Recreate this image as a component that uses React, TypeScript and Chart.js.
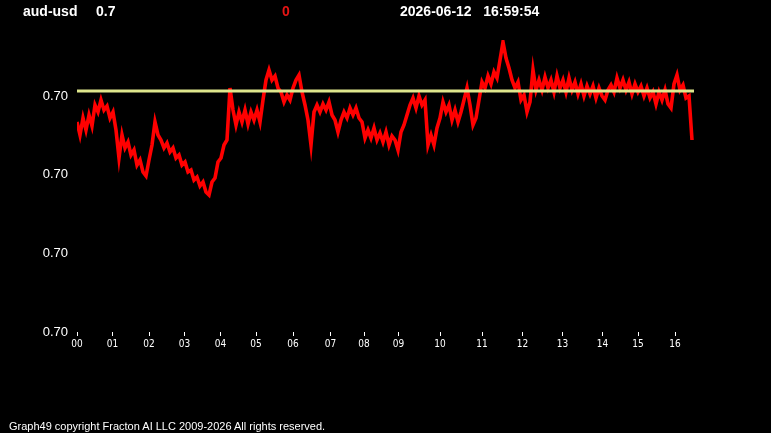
import { useEffect, useRef } from "react";
import { Chart, registerables } from "chart.js";

Chart.register(...registerables);

// hour labels and the sample position where each hour starts
const hourLabels = ["00", "01", "02", "03", "04", "05", "06", "07", "08", "09", "10", "11", "12", "13", "14", "15", "16"];
const hourStarts = [0, 35.5, 72, 107.5, 143.5, 179, 216, 253.5, 287, 321.5, 363, 405, 445.5, 485.5, 525.5, 561, 598];
const sampleStep = 3;
const lastSample = 617;

// aud-usd price samples
const prices = [
  0.70378, 0.70365, 0.70382, 0.7037, 0.70385, 0.70374, 0.70395, 0.70388, 0.704, 0.7039,
  0.70394, 0.70382, 0.70388, 0.7037, 0.70342, 0.70365, 0.70352, 0.70358, 0.70345, 0.7035,
  0.70335, 0.7034, 0.70328, 0.70324, 0.7034, 0.70355, 0.70378, 0.70365, 0.7036, 0.70352,
  0.70357, 0.70348, 0.70352, 0.70342, 0.70345, 0.70335, 0.70338, 0.70328, 0.7033, 0.7032,
  0.70323, 0.70314, 0.70318, 0.70308, 0.70305, 0.70318, 0.70322, 0.70338, 0.70342, 0.70355,
  0.7036, 0.70412, 0.7039, 0.70375, 0.70388, 0.70378, 0.7039, 0.70376, 0.70388, 0.7038,
  0.7039, 0.70378, 0.704, 0.7042, 0.7043, 0.7042, 0.70424, 0.70412, 0.70408, 0.70398,
  0.70405, 0.704, 0.70412, 0.7042, 0.70425, 0.70408, 0.70395, 0.7038, 0.70355, 0.70388,
  0.70395, 0.70388, 0.70396, 0.7039, 0.70398, 0.70385, 0.7038, 0.70368, 0.7038, 0.70388,
  0.70382, 0.70392, 0.70385, 0.70392, 0.70382, 0.70378, 0.70362, 0.7037, 0.70362, 0.70372,
  0.7036, 0.70367, 0.70358, 0.70368, 0.70355, 0.70364, 0.7036, 0.7035, 0.70368, 0.70375,
  0.70385, 0.70395, 0.70402, 0.70392, 0.70404, 0.70395, 0.704, 0.70355, 0.70365, 0.70355,
  0.70372, 0.70382, 0.70398, 0.70388, 0.70395, 0.7038, 0.7039, 0.70378, 0.70388, 0.704,
  0.70412, 0.70395, 0.70375, 0.70382, 0.704, 0.70418, 0.70412, 0.70424, 0.70416, 0.70428,
  0.70422, 0.7044, 0.70458, 0.70442, 0.70432, 0.7042, 0.70412, 0.70418, 0.704, 0.70405,
  0.70388, 0.70398, 0.7043, 0.7041, 0.7042, 0.7041, 0.70423, 0.70412, 0.7042, 0.70408,
  0.70424, 0.70412, 0.7042, 0.70408, 0.70422, 0.7041, 0.70418, 0.70406, 0.70416, 0.70404,
  0.70414, 0.70406, 0.70414, 0.70402, 0.70412, 0.70404, 0.704, 0.7041, 0.70415, 0.70408,
  0.70422, 0.70412, 0.7042, 0.7041, 0.70418, 0.70406, 0.70416, 0.70408, 0.70414, 0.70404,
  0.70412, 0.70402, 0.70408, 0.70396, 0.70408, 0.704, 0.7041, 0.70396, 0.70392, 0.70416,
  0.70425, 0.7041, 0.70415, 0.70402, 0.70404, 0.7036
];

const prevClose = 0.70409;
const yTicks = [0.70404, 0.703253, 0.702467, 0.70168];
const yMin = 0.70168;
const yMax = 0.7046;

const textFont = '"Liberation Sans", Arial, sans-serif';

export default function App() {
  const chartRef = useRef<HTMLCanvasElement | null>(null);
  const chartInstance = useRef<Chart | null>(null);

  useEffect(() => {
    document.body.style.margin = "0";
    document.body.style.background = "#000";
    if (!chartRef.current) return;
    if (chartInstance.current) chartInstance.current.destroy();
    const ctx = chartRef.current.getContext("2d");
    if (!ctx) return;

    chartInstance.current = new Chart(ctx, {
      type: "line",
      data: {
        datasets: [
          {
            label: "aud-usd",
            data: prices.map((p, i) => ({ x: i * sampleStep, y: p })),
            borderColor: "#ff0000",
            borderWidth: 3.6,
            borderJoinStyle: "miter",
            pointRadius: 0,
            tension: 0,
            order: 2
          },
          {
            label: "prev",
            data: [
              { x: 0, y: prevClose },
              { x: lastSample, y: prevClose }
            ],
            borderColor: "rgb(222,230,140)",
            borderWidth: 3,
            pointRadius: 0,
            order: 1
          }
        ]
      },
      options: {
        responsive: false,
        animation: false,
        layout: { padding: { top: 40, right: 77, bottom: 0, left: 0 } },
        plugins: { legend: { display: false }, tooltip: { enabled: false } },
        scales: {
          x: {
            type: "linear",
            min: 0,
            max: lastSample,
            afterBuildTicks: (axis) => {
              axis.ticks = hourStarts.map((v) => ({ value: v }));
            },
            afterFit: (scale) => {
              scale.height = 101;
            },
            ticks: {
              autoSkip: false,
              maxRotation: 0,
              color: "#ffffff",
              padding: 2,
              font: { family: '"Liberation Sans Narrow", "Arial Narrow", "DejaVu Sans Condensed", sans-serif', size: 10 },
              callback: (_v, i) => hourLabels[i]
            },
            grid: { display: true, drawOnChartArea: false, drawTicks: true, tickLength: 4, color: "#ffffff" },
            border: { display: false }
          },
          y: {
            min: yMin,
            max: yMax,
            afterBuildTicks: (axis) => {
              axis.ticks = yTicks.map((v) => ({ value: v }));
            },
            afterFit: (scale) => {
              scale.width = 77;
            },
            ticks: {
              color: "#ffffff",
              padding: 9,
              font: { family: textFont, size: 13 },
              callback: (v) => Number(v).toFixed(2)
            },
            grid: { display: false, drawTicks: false },
            border: { display: false }
          }
        }
      }
    });

    return () => {
      if (chartInstance.current) {
        chartInstance.current.destroy();
        chartInstance.current = null;
      }
    };
  }, []);

  const head = { position: "absolute" as const, top: 4, fontFamily: textFont, fontWeight: "bold" as const, fontSize: 14, lineHeight: "14px", color: "#fff", whiteSpace: "pre" as const };

  return (
    <div style={{ position: "relative", width: 771, height: 433, background: "#000", overflow: "hidden" }}>
      <canvas ref={chartRef} width={771} height={433} style={{ display: "block" }} />
      <div style={{ ...head, left: 23 }}>aud-usd</div>
      <div style={{ ...head, left: 96 }}>0.7</div>
      <div style={{ ...head, left: 282, color: "#e61414" }}>0</div>
      <div style={{ ...head, left: 400 }}>2026-06-12   16:59:54</div>
      <div style={{ position: "absolute", left: 9, top: 421, fontFamily: textFont, fontSize: 11, lineHeight: "11px", color: "#fff", whiteSpace: "pre" }}>
        Graph49 copyright Fracton AI LLC 2009-2026 All rights reserved.
      </div>
    </div>
  );
}
